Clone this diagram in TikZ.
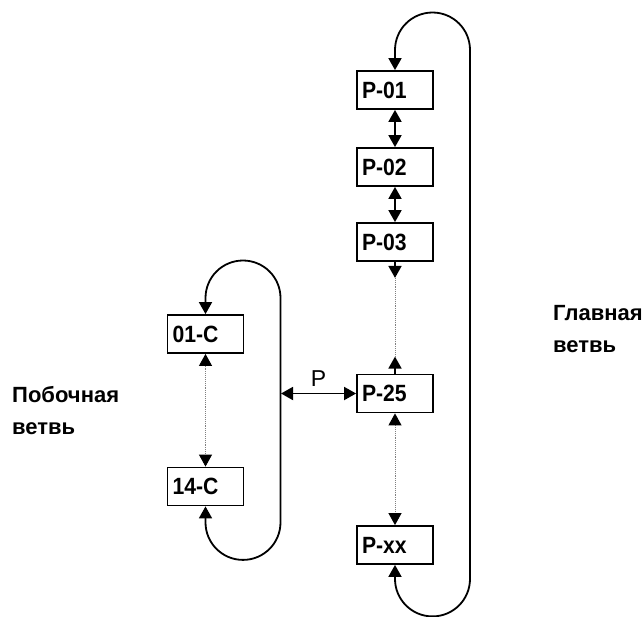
\documentclass[tikz,border=0pt]{standalone}
\usepackage{fontspec}
\setsansfont{Liberation Sans}
\newfontfamily\boxfont[FakeStretch=0.9]{Liberation Sans Bold}
\usepackage{xcolor}
\definecolor{DotGrey}{rgb}{0.5, 0.5, 0.5}
\usepackage{tikz}
\usetikzlibrary{arrows.meta, positioning}

\begin{document}
\begin{tikzpicture}[
        x=1pt, y=1pt,
        font=\sffamily,
        >={Triangle[length=12pt, width=13pt, color=black]},
        % Styles
        menubox/.style={rectangle, draw, line width=1.8pt, minimum height=38pt, text width=66pt, inner sep=5pt, align=left, font=\boxfont\fontsize{23.5}{26}\selectfont},
        link/.style={line width=1.8pt},
        dotline/.style={DotGrey, line width=0.9pt, densely dotted},
        branch/.style={anchor=north west, inner sep=0pt, align=left, font=\sffamily\bfseries\fontsize{22}{32}\selectfont}
    ]
    \useasboundingbox (0,0) rectangle (642,-616);

    % 1. MAIN BRANCH (P-01 ... P-xx)
    \node[menubox] (p01) at (395,-90) {P-01};
    \node[menubox] (p02) at (395,-167) {P-02};
    \node[menubox] (p03) at (395,-242) {P-03};
    \node[menubox] (p25) at (395,-393.5) {P-25};
    \node[menubox] (pxx) at (395,-545) {P-xx};

    \draw[link, <->] (p01) -- (p02);
    \draw[link, <->] (p02) -- (p03);
    \draw[link, ->] (p03.south) -- ++(0,-16) coordinate (gapTop);
    \draw[link, ->] (p25.north) -- ++(0,17) coordinate (gapBot);
    \draw[dotline] (gapTop) -- (gapBot);
    \draw[dotline, <->] (p25) -- (pxx);

    % loop back from the last item to the first
    \draw[link, <->] (pxx.south) -- ++(0,-14) arc[start angle=180, end angle=360, radius=37.5]
        -- (470,-50) arc[start angle=0, end angle=180, radius=37.5] -- (p01.north);

    % 2. SIDE BRANCH (01-C ... 14-C)
    \node[menubox] (c01) at (205.5,-334) {01-C};
    \node[menubox] (c14) at (205.5,-486.5) {14-C};

    \draw[dotline, <->] (c01) -- (c14);
    \draw[link, <->] (c14.south) -- ++(0,-16) arc[start angle=180, end angle=360, radius=37.5]
        -- (280.5,-298) arc[start angle=0, end angle=180, radius=37.5] -- (c01.north);

    % 3. JUMP BETWEEN BRANCHES
    \coordinate (tap) at (281,-393.5);
    \draw[link, <->] (tap) -- (p25.west) node[midway, above=6pt, inner sep=0pt, font=\sffamily\fontsize{23}{26}\selectfont] (jump) {P};

    % 4. ANNOTATIONS
    \node[branch] (mainlbl) at (553,-305) {Главная\\ветвь};
    \node[branch] (sidelbl) at (12,-386) {Побочная\\ветвь};
\end{tikzpicture}
\end{document}
